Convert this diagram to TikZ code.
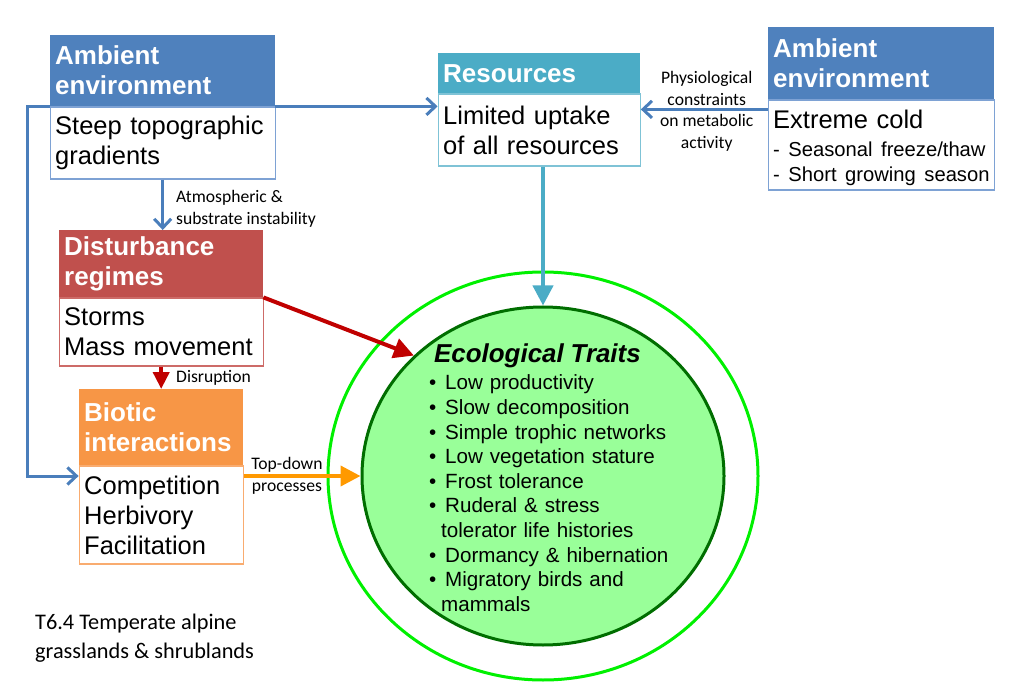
\documentclass[tikz,border=0pt]{standalone}
\usepackage{fontspec}
\setmainfont{Liberation Sans}
\newfontfamily\lblfont{Carlito}
\usetikzlibrary{positioning,shapes.geometric,arrows.meta}

\definecolor{ambblue}{HTML}{4F81BD}
\definecolor{ambline}{HTML}{7EA2D4}
\definecolor{arrblue}{HTML}{4A7EBB}
\definecolor{rescyan}{HTML}{4BACC6}
\definecolor{resline}{HTML}{7FC3D6}
\definecolor{disred}{HTML}{C0504D}
\definecolor{disline}{HTML}{CD6B68}
\definecolor{arrred}{HTML}{C00000}
\definecolor{biorange}{HTML}{F79646}
\definecolor{bioline}{HTML}{F9AC70}
\definecolor{arrorange}{HTML}{FF9900}
\definecolor{traitfill}{HTML}{99FF99}
\definecolor{traitline}{HTML}{006E00}
\definecolor{ringgreen}{HTML}{00F000}

\tikzset{
  hdr/.style={fill=#1, text=white, anchor=north west, inner xsep=5pt, inner ysep=0pt,
    align=left, font=\bfseries\fontsize{26}{30}\selectfont},
  bdy/.style={draw=#1, line width=1.2pt, fill=white, inner xsep=5pt, inner ysep=0pt,
    align=left, font=\fontsize{25.5}{30}\selectfont},
  lbl/.style={text=black, font=\lblfont\fontsize{17.6}{21.5}\selectfont, inner sep=0pt},
  bluearr/.style={color=arrblue, line width=3pt, -{Straight Barb[length=9pt,width=17pt]}},
  fatarr/.style={color=#1, line width=4pt, -{Triangle[length=20pt,width=20pt]}},
}

\begin{document}
\begin{tikzpicture}[x=1pt,y=-1pt]
\useasboundingbox (0,0) rectangle (1011,700);

% boxes
\node[hdr=ambblue, text width=215pt, minimum height=71pt] (ambLhead) at (50,35) {Ambient\\environment};
\node[bdy=ambline, text width=215pt, minimum height=72pt, below=0pt of ambLhead] (ambLbody) {Steep topographic\\gradients};

\node[hdr=rescyan, text width=192pt, minimum height=40pt] (reshead) at (438,53) {Resources};
\node[bdy=resline, text width=192pt, minimum height=72pt, below=0pt of reshead] (resbody) {Limited uptake\\of all resources};

\node[hdr=ambblue, text width=216pt, minimum height=72pt] (ambRhead) at (768,27) {Ambient\\environment};
\node[bdy=ambline, text width=216pt, minimum height=90pt, below=0pt of ambRhead] (ambRbody)
  {\rule{0pt}{24pt}Extreme cold\\[-2pt]\mbox{\fontsize{20.2}{25}\selectfont - Seasonal freeze/thaw}\\[-5pt]\mbox{\fontsize{20.2}{25}\selectfont - Short growing season}};

\node[hdr=disred, text width=194pt, minimum height=67pt] (disthead) at (59,230) {Disturbance\\regimes};
\node[bdy=disline, text width=194pt, minimum height=68pt, below=0pt of disthead] (distbody) {Storms\\Mass movement};

\node[hdr=biorange, text width=154pt, minimum height=76pt] (biohead) at (79,389) {Biotic\\interactions};
\node[bdy=bioline, text width=154pt, minimum height=98pt, below=0pt of biohead] (biobody) {Competition\\Herbivory\\Facilitation};

% traits
\node[ellipse, draw=ringgreen, line width=3pt, minimum width=430pt, minimum height=408pt] (ring) at (543,476) {};
\node[ellipse, draw=traitline, fill=traitfill, line width=3pt, minimum width=362pt, minimum height=338pt] (traits) at (543,476) {};
\node[anchor=north west, inner sep=0pt, text width=250pt, align=left, font=\fontsize{20.6}{24.6}\selectfont] (traitlist) at (429,344)
  {\hspace*{5pt}{\fontsize{25.9}{27}\selectfont\bfseries\itshape Ecological Traits}\\[2.4pt]
   \makebox[16pt][l]{\textbullet}Low productivity\\
   \makebox[16pt][l]{\textbullet}Slow decomposition\\
   \makebox[16pt][l]{\textbullet}Simple trophic networks\\
   \makebox[16pt][l]{\textbullet}Low vegetation stature\\
   \makebox[16pt][l]{\textbullet}Frost tolerance\\
   \makebox[16pt][l]{\textbullet}Ruderal \& stress\\
   \hspace*{12pt}tolerator life histories\\
   \makebox[16pt][l]{\textbullet}Dormancy \& hibernation\\
   \makebox[16pt][l]{\textbullet}Migratory birds and\\
   \hspace*{12pt}mammals};

\node[anchor=west, inner sep=0pt, align=left, font=\lblfont\fontsize{22.3}{29}\selectfont] (caption) at (35,638)
  {T6.4 Temperate alpine\\grasslands \& shrublands};

% connectors
\draw[bluearr] (ambLhead.south east) -- (ambLhead.south east -| resbody.west);
\draw[bluearr] (ambLhead.south west) -- ++(-23,0) |- (biobody.west |- traits.west);
\draw[bluearr] (ambLbody.south) -- (ambLbody.south |- disthead.north)
  node[lbl, pos=0.58, right=12pt, align=left] (atmlbl) {Atmospheric \&\\substrate instability};
\coordinate (physin) at ([yshift=-10pt]ambRbody.north west);
\draw[bluearr] (physin) -- (physin -| resbody.east)
  node[lbl, pos=0.48, yshift=-2pt, align=center] (physlbl) {Physiological\\constraints\\on metabolic\\activity};
\draw[fatarr=rescyan] (resbody.south -| traits.north) -- (traits.north);
\draw[fatarr=arrred] (disthead.south east) -- (traits.137);
\draw[fatarr=arrred, -{Triangle[length=17pt,width=16pt]}] (distbody.south) -- (biohead.north)
  node[lbl, midway, right=13pt] (disrlbl) {Disruption};
\draw[fatarr=arrorange] (biobody.east |- traits.west) -- (traits.west)
  node[lbl, pos=0.37, align=center] (toplbl) {Top-down\\processes};
\end{tikzpicture}
\end{document}
